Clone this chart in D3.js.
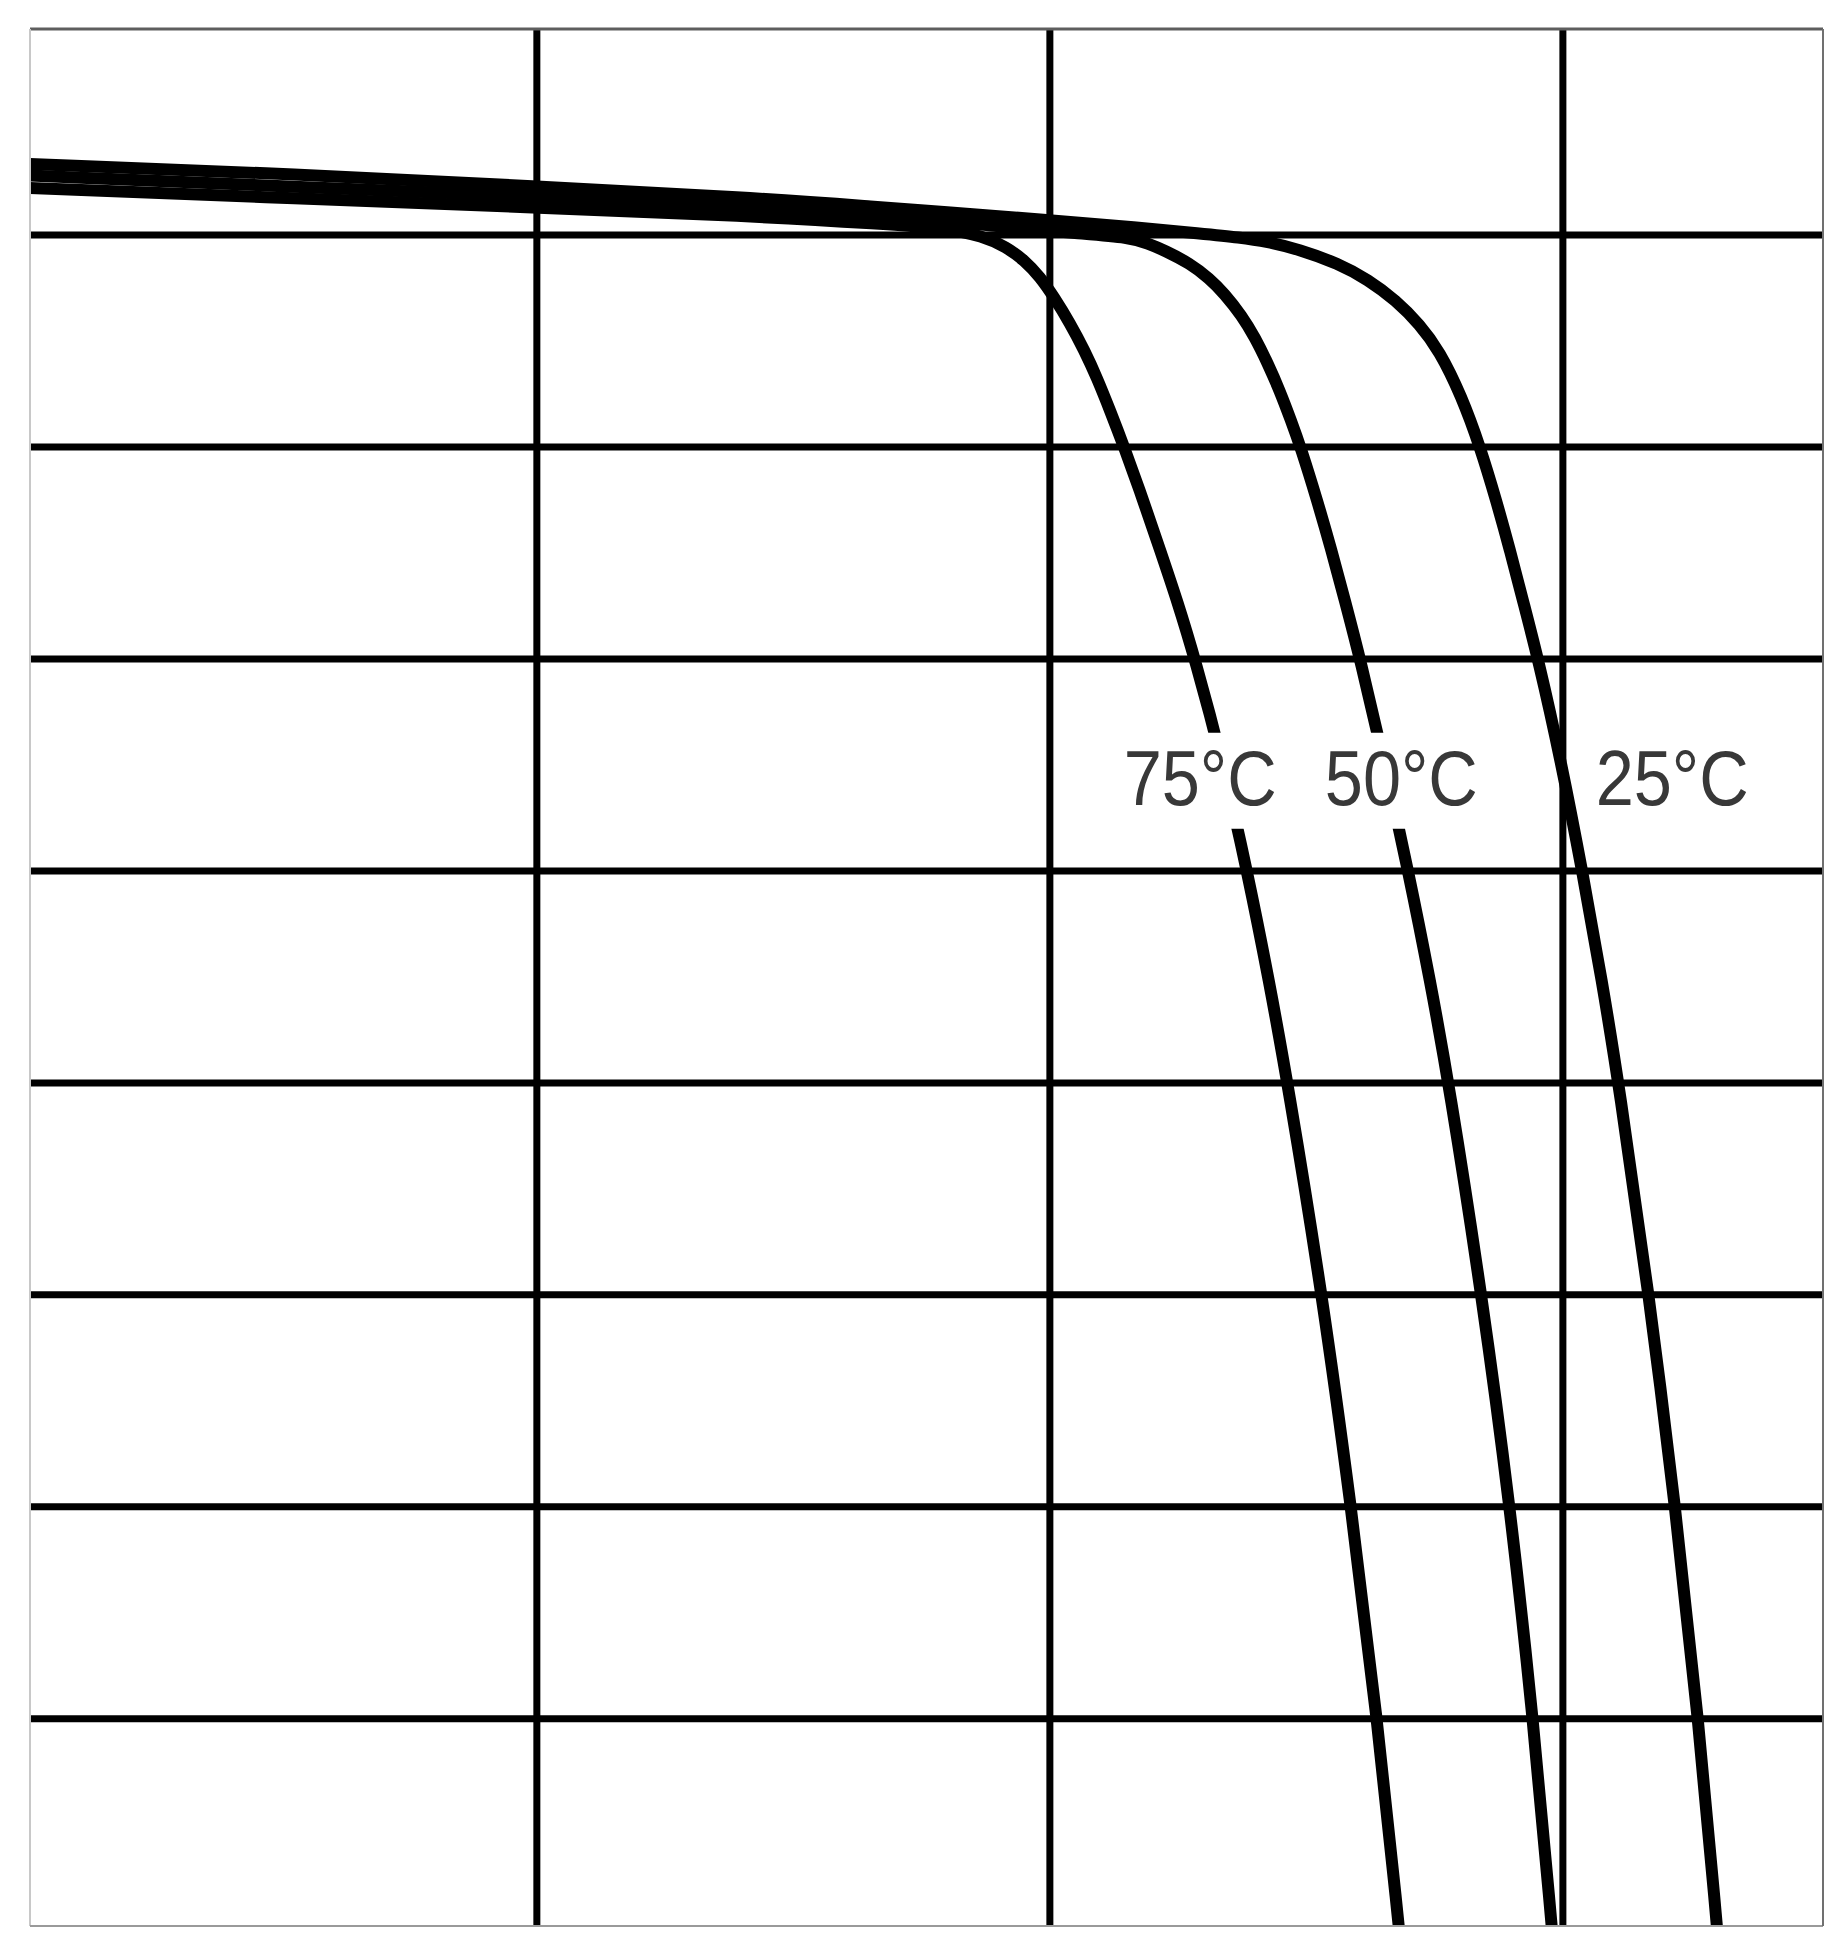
<!DOCTYPE html>
<html><head><meta charset="utf-8">
<script src="https://cdn.jsdelivr.net/npm/d3@7"></script>
<style>html,body{margin:0;padding:0;background:#fff}</style>
</head><body><svg id="chart"></svg>
<script>
// grid positions (data units: voltage / current)
const gridVoltages = [10, 20, 30];
const gridCurrents = [1, 2, 3, 4, 5, 6, 7, 8];

// series labels
const seriesNames = ["25°C", "50°C", "75°C"];

// 25°C curve
const voltage25 = [0.13, 5.39, 9.99, 14.17, 16.76, 17.87, 19.82, 21.77, 22.94, 23.72, 24.24, 24.87, 25.63, 26.21, 26.76, 27.22, 27.60, 28.03, 28.40, 28.71, 28.98, 29.23, 29.53, 29.97, 30.40, 30.77, 31.10, 31.69, 32.20, 32.65, 33.02];
const current25 = [8.333, 8.285, 8.228, 8.175, 8.128, 8.109, 8.071, 8.033, 8.005, 7.986, 7.967, 7.930, 7.864, 7.788, 7.689, 7.576, 7.453, 7.241, 6.996, 6.746, 6.510, 6.274, 5.996, 5.520, 4.982, 4.482, 3.991, 2.996, 2.001, 1.001, -0.005];

// 50°C curve
const voltage50 = [0.13, 5.39, 9.99, 14.17, 16.76, 19.04, 20.60, 21.57, 21.92, 22.25, 22.74, 23.12, 23.41, 23.75, 24.01, 24.25, 24.49, 24.71, 24.90, 25.22, 25.50, 25.76, 26.06, 26.52, 27.01, 27.42, 27.79, 28.43, 28.98, 29.43, 29.80];
const current50 = [8.279, 8.224, 8.182, 8.128, 8.091, 8.039, 8.005, 7.986, 7.958, 7.925, 7.864, 7.793, 7.722, 7.618, 7.514, 7.396, 7.264, 7.123, 6.996, 6.746, 6.510, 6.274, 5.996, 5.520, 4.982, 4.482, 3.991, 2.996, 2.001, 1.001, -0.005];

// 75°C curve
const voltage75 = [0.13, 5.39, 9.99, 14.17, 16.76, 17.95, 18.71, 19.16, 19.51, 19.82, 20.09, 20.40, 20.68, 20.93, 21.18, 21.46, 21.83, 22.16, 22.49, 22.84, 23.37, 23.87, 24.28, 24.65, 25.32, 25.88, 26.39, 26.82];
const current75 = [8.220, 8.170, 8.128, 8.088, 8.050, 8.031, 7.993, 7.941, 7.880, 7.800, 7.705, 7.583, 7.455, 7.323, 7.172, 6.996, 6.746, 6.510, 6.274, 5.996, 5.520, 4.982, 4.482, 3.991, 2.996, 2.001, 1.001, -0.005];

// label anchor positions (data units)
const labelVoltages = [32.14, 26.86, 22.94];
const labelCurrents = [5.31, 5.31, 5.31];

const W = 1843, H = 1947;
const plot = {left: 30, top: 29, right: 1823, bottom: 1926};

const svg = d3.select("#chart").attr("width", W).attr("height", H)
  .style("display", "block").style("background", "#fff");

const x = d3.scaleLinear().domain([0.13, 35.08]).range([plot.left, plot.right]);
const y = d3.scaleLinear().domain([0.02, 8.97]).range([plot.bottom, plot.top]);

svg.append("defs").append("clipPath").attr("id", "clip")
  .append("rect").attr("x", plot.left).attr("y", plot.top)
  .attr("width", plot.right - plot.left).attr("height", plot.bottom - plot.top);

// gridlines via axes
const gx = svg.append("g").attr("transform", `translate(0,${plot.bottom})`)
  .call(d3.axisBottom(x).tickValues(gridVoltages).tickSize(-(plot.bottom - plot.top)).tickFormat(""));
const gy = svg.append("g").attr("transform", `translate(${plot.left},0)`)
  .call(d3.axisLeft(y).tickValues(gridCurrents).tickSize(-(plot.right - plot.left)).tickFormat(""));
[gx, gy].forEach(g => {
  g.select(".domain").remove();
  g.selectAll(".tick line").attr("stroke", "#000").attr("stroke-width", 7);
});

// curves
const series = [
  {name: seriesNames[0], v: voltage25, i: current25},
  {name: seriesNames[1], v: voltage50, i: current50},
  {name: seriesNames[2], v: voltage75, i: current75}
];
const line = d3.line().x(d => x(d[0])).y(d => y(d[1])).curve(d3.curveBasis);
const cg = svg.append("g").attr("clip-path", "url(#clip)");
series.forEach(s => {
  cg.append("path").datum(d3.zip(s.v, s.i))
    .attr("d", line).attr("fill", "none").attr("stroke", "#000")
    .attr("stroke-width", 12).attr("stroke-linejoin", "round");
});

// labels with white background
const lg = svg.append("g");
seriesNames.forEach((name, k) => {
  const g = lg.append("g");
  const rect = g.append("rect").attr("fill", "#fff");
  const t = g.append("text")
    .attr("x", x(labelVoltages[k])).attr("y", y(labelCurrents[k]))
    .attr("text-anchor", "middle")
    .attr("font-family", "'Liberation Sans', Arial, Helvetica, sans-serif")
    .attr("font-size", 77)
    .attr("textLength", 153).attr("lengthAdjust", "spacingAndGlyphs")
    .attr("fill", "#383838")
    .text(name);
  const b = t.node().getBBox();
  rect.attr("x", b.x - 6).attr("y", b.y - 2).attr("width", b.width + 12).attr("height", b.height + 10);
});

// frame
const fr = svg.append("g");
fr.append("line").attr("x1", plot.left).attr("x2", plot.right).attr("y1", plot.top).attr("y2", plot.top)
  .attr("stroke", "#5e5e5e").attr("stroke-width", 3);
fr.append("line").attr("x1", plot.left).attr("x2", plot.left).attr("y1", plot.top).attr("y2", plot.bottom)
  .attr("stroke", "#c8c8c8").attr("stroke-width", 2);
fr.append("line").attr("x1", plot.left).attr("x2", plot.right).attr("y1", plot.bottom).attr("y2", plot.bottom)
  .attr("stroke", "#9a9a9a").attr("stroke-width", 2);
fr.append("line").attr("x1", plot.right).attr("x2", plot.right).attr("y1", plot.top).attr("y2", plot.bottom)
  .attr("stroke", "#707070").attr("stroke-width", 2);
</script></body></html>
